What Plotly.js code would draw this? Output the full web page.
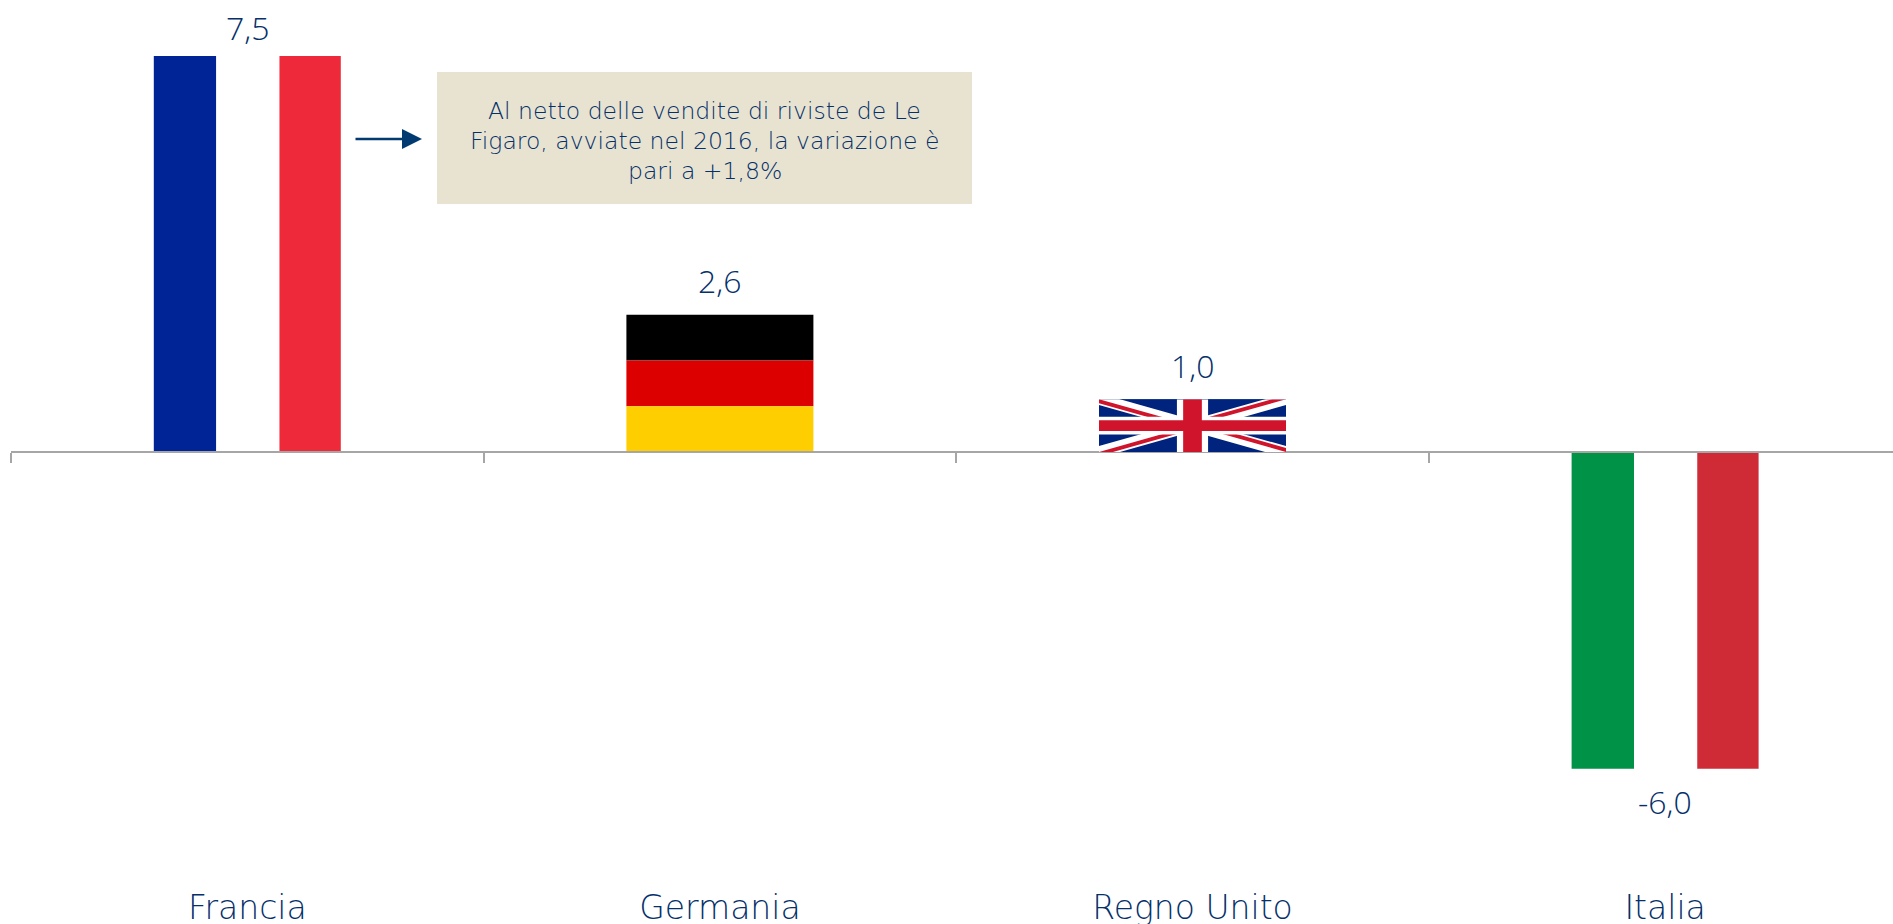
<!DOCTYPE html>
<html><head><meta charset="utf-8">
<script src="https://cdn.plot.ly/plotly-3.0.1.min.js"></script>
<style>html,body{margin:0;padding:0;background:#fff;overflow:hidden}#c{width:1893px;height:924px}</style>
</head><body><div id="c"></div>
<script>
const categories = ['Francia','Germania','Regno Unito','Italia'];
const values = [7.5, 2.6, 1.0, -6.0];
const noteLines = ['Al netto delle vendite di riviste de Le','Figaro, avviate nel 2016, la variazione è','pari a +1,8%'];

const ink = '#05306a', FONT = '"Open Sans", Lato, sans-serif', WIDE = '"DejaVu Sans", "Open Sans", sans-serif';
const W = 1893, H = 924, L = 11, catPx = 472.6, unitPx = 52.8, zeroY = 452;
const barW = 187 / catPx;
const labelGaps = [5, 11, 10, -9];
const stripeEdges = [0, 0.334, 0.672, 1];

function stripeV(i, colors) {
  return colors.map((c, k) => ({type:'bar', x:[categories[i]], y:[values[i]], width:[barW*(stripeEdges[k+1]-stripeEdges[k])], offset:[-barW/2 + stripeEdges[k]*barW],
    marker:{color:c, line:{width:0}}, hoverinfo:'skip', showlegend:false}));
}
function stripeH(i, colors) {
  return colors.map((c, k) => ({type:'bar', x:[categories[i]], y:[values[i]/3], base:[values[i]*(2-k)/3], width:[barW], offset:[-barW/2],
    marker:{color:c, line:{width:0}}, hoverinfo:'skip', showlegend:false}));
}
const traces = [
  ...stripeV(0, ['#002395','#ffffff','#ee2a3a']),
  ...stripeH(1, ['#000000','#dd0000','#ffce00']),
  {type:'bar', x:[categories[2]], y:[values[2]], width:[barW], offset:[-barW/2], marker:{color:'#00247d', line:{width:0}}, hoverinfo:'skip', showlegend:false},
  ...stripeV(3, ['#009246','#ffffff','#ce2b37'])
];

const jack = `<svg xmlns="http://www.w3.org/2000/svg" viewBox="0 0 60 30" width="600" height="300" preserveAspectRatio="none"><clipPath id="t"><path d="M30,15h30v15zv15h-30zh-30v-15zv-15h30z"/></clipPath><rect width="60" height="30" fill="#00247d"/><path d="M0,0L60,30M60,0L0,30" stroke="#fff" stroke-width="6"/><path d="M0,0L60,30M60,0L0,30" clip-path="url(#t)" stroke="#cf142b" stroke-width="4"/><path d="M30,0v30M0,15h60" stroke="#fff" stroke-width="10"/><path d="M30,0v30M0,15h60" stroke="#cf142b" stroke-width="6"/></svg>`;

const valueNotes = values.map((v, i) => ({
  xref:'x', yref:'y', x:categories[i], y:v, text:v.toFixed(1).replace('.',','), showarrow:false,
  yanchor: v >= 0 ? 'bottom' : 'top', yshift: labelGaps[i],
  font:{family:FONT, size:32, color:ink, weight:300}
}));
const lineNotes = noteLines.map((t, k) => ({
  xref:'paper', yref:'paper', x:(704.5-L)/(W-L), y:1-(111+k*30)/H, xanchor:'center', yanchor:'middle', showarrow:false,
  text:t, font:{family:WIDE, size:23.5, color:ink, weight:300}
}));

const layout = {
  width:W, height:H, margin:{l:L, r:0, t:0, b:0}, paper_bgcolor:'#fff', plot_bgcolor:'#fff',
  barmode:'overlay', showlegend:false,
  xaxis:{type:'category', categoryorder:'array', categoryarray:categories, range:[-0.5, -0.5+(W-L)/catPx],
    anchor:'free', position:(H-zeroY)/H, showline:true, linecolor:'#a6a6a6', linewidth:2,
    ticks:'outside', ticklen:10, tickwidth:2, tickcolor:'#a6a6a6', tickson:'boundaries',
    ticklabelstandoff:426, showgrid:false, zeroline:false, automargin:false,
    tickfont:{family:WIDE, size:33, color:ink, weight:300}},
  yaxis:{range:[-(H-zeroY)/unitPx, zeroY/unitPx], visible:false, showgrid:false, zeroline:false, fixedrange:true},
  images:[{source:'data:image/svg+xml;charset=utf-8,'+encodeURIComponent(jack), xref:'x', yref:'y',
    x:2-barW/2, y:values[2], sizex:barW, sizey:values[2], sizing:'stretch', xanchor:'left', yanchor:'top', layer:'above'}],
  shapes:[{type:'rect', xref:'paper', yref:'paper', x0:(437-L)/(W-L), x1:(972-L)/(W-L), y0:1-204/H, y1:1-72/H, fillcolor:'#e8e3d1', line:{width:0}, layer:'below'}],
  annotations:[
    ...valueNotes,
    ...lineNotes,
    {xref:'paper', yref:'paper', x:(422-L)/(W-L), y:1-139/H, axref:'pixel', ayref:'pixel', ax:-68, ay:0, text:'',
     showarrow:true, arrowhead:2, arrowsize:1.6, arrowwidth:2.5, arrowcolor:'#003a70'}
  ]
};
Plotly.newPlot('c', traces, layout, {displayModeBar:false, staticPlot:true});
</script></body></html>
